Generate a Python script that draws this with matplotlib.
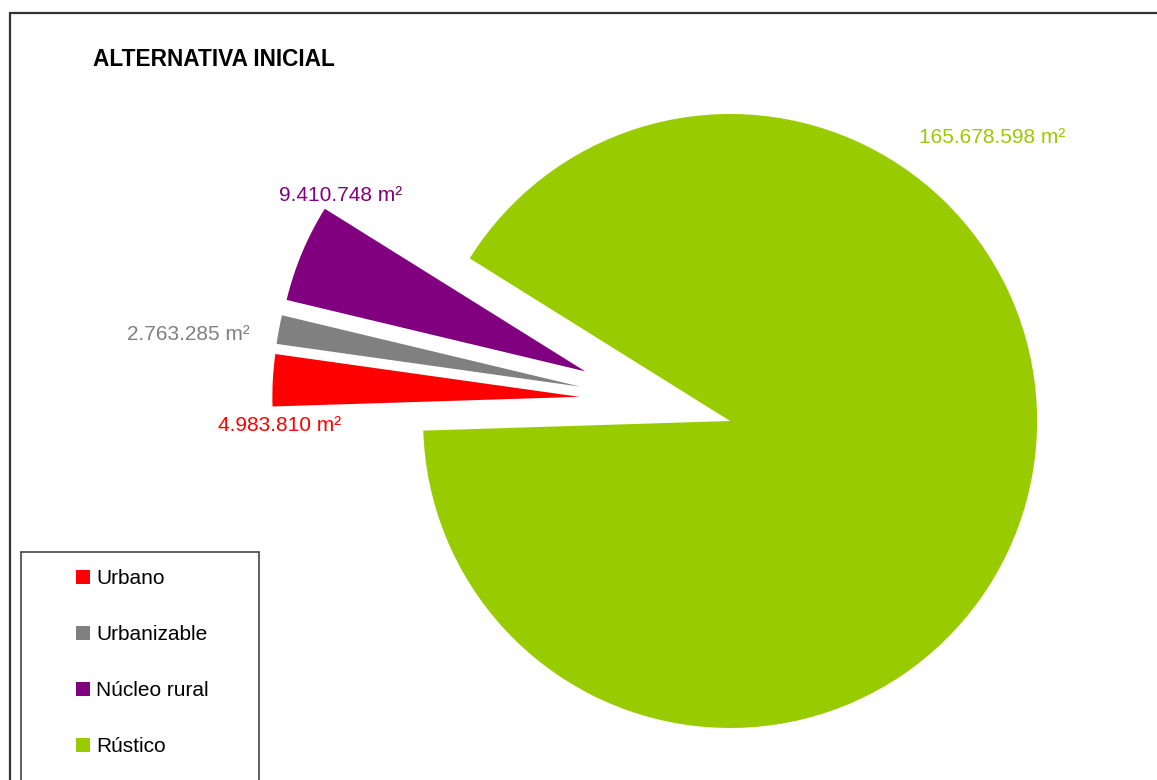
import matplotlib.pyplot as plt
from matplotlib.patches import Rectangle

plt.rcParams['font.family'] = ['Liberation Sans', 'DejaVu Sans']

categories = ['Urbano', 'Urbanizable', 'Núcleo rural', 'Rústico']
areas = [4983810, 2763285, 9410748, 165678598]
colors = ['#FF0000', '#808080', '#800080', '#99CC00']
explode = [0.25, 0.25, 0.25, 0.25]
# label anchor points (data units, pie radius = 1)
label_pos = [(-1.225, -0.081), (-1.524, 0.215), (-1.029, 0.671), (1.094, 0.857)]

W, H = 1157, 780
fig = plt.figure(figsize=(W / 100, H / 100), dpi=100)
ax = fig.add_axes([0, 0, 1, 1])

wedges, _ = ax.pie(areas, colors=colors, explode=explode, startangle=181.8,
                   counterclock=False, radius=1,
                   wedgeprops=dict(linewidth=0))

cx, cy, r = 656, 401, 307
ax.set_xlim(-cx / r, (W - cx) / r)
ax.set_ylim(-(H - cy) / r, cy / r)
ax.axis('off')

for (x, y), v, c in zip(label_pos, areas, colors):
    txt = f"{v:,}".replace(',', '.') + " m²"
    ax.text(x, y, txt, color=c, fontsize=15, ha='center', va='center')

# outer chart frame
fig.patches.append(Rectangle((10 / W, -0.1), 1.2, 1 - 13 / H + 0.1,
                             transform=fig.transFigure, fill=False,
                             edgecolor='#333333', linewidth=1.6))

fig.text(93 / W, 1 - 60 / H, 'ALTERNATIVA INICIAL', fontsize=16.3,
         fontweight='bold', ha='left', va='center')

# legend box
fig.patches.append(Rectangle((21 / W, -0.1), 238 / W, 1 - 552 / H + 0.1,
                             transform=fig.transFigure, fill=False,
                             edgecolor='#444444', linewidth=1.2))

fig.legend(wedges, categories, loc='upper left',
           bbox_to_anchor=(76 / W, 1 - 569 / H), frameon=False,
           fontsize=15, handlelength=0.67, handleheight=0.67,
           handletextpad=0.3, labelspacing=1.78, borderpad=0,
           borderaxespad=0)

fig.savefig('out.png', dpi=100)
